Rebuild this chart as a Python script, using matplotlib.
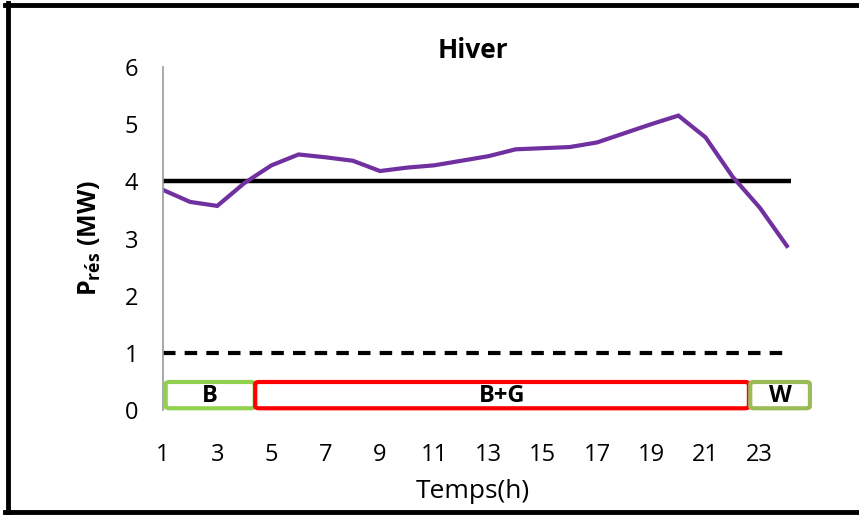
import matplotlib.pyplot as plt
from matplotlib.patches import FancyBboxPatch
from matplotlib.lines import Line2D

plt.rcParams['font.family'] = ['Open Sans', 'DejaVu Sans']
plt.rcParams['mathtext.fontset'] = 'custom'
plt.rcParams['mathtext.bf'] = 'Open Sans:bold'
plt.rcParams['mathtext.rm'] = 'Open Sans'

# hourly residual power, winter
hours = list(range(1, 25))
p_res = [3.85, 3.64, 3.57, 3.97, 4.28, 4.47, 4.42, 4.36, 4.18, 4.24, 4.28, 4.36,
         4.44, 4.56, 4.58, 4.60, 4.68, 4.84, 5.00, 5.15, 4.77, 4.08, 3.54, 2.87]
p_max = 4
p_min = 1

# operating modes along the day
mode_labels = ['B', 'B+G', 'W']
mode_start = [1.1, 4.4, 22.65]
mode_end = [4.38, 22.6, 24.85]
mode_colors = ['#92D050', '#FF0000', '#9BBB59']

fig = plt.figure(figsize=(8.59, 5.15), dpi=100)
ax = fig.add_axes([163 / 859, 1 - 410 / 515, (795 - 163) / 859, (410 - 67) / 515])

ax.plot([1, 24.15], [p_max, p_max], color='black', lw=3.2, solid_capstyle='butt')
ax.plot([1, 24.15], [p_min, p_min], color='black', lw=3, ls=(0, (3, 2.2)))
ax.plot(hours, p_res, color='#7030A0', lw=3, solid_joinstyle='miter')

for lab, s, e, c in zip(mode_labels, mode_start, mode_end, mode_colors):
  box = FancyBboxPatch((s, 0.03), e - s, 0.46, boxstyle='round,pad=0,rounding_size=0.15',
                       mutation_aspect=0.25, fc='white', ec=c, lw=3, clip_on=False, zorder=3)
  ax.add_patch(box)
  ax.text((s + e) / 2, 0.25, lab, ha='center', va='center', fontsize=17,
          fontweight='bold', zorder=4)

ax.set_xlim(1, 24.3)
ax.set_ylim(0, 6)
ax.set_xticks(range(1, 25, 2))
ax.set_yticks(range(0, 7))
ax.tick_params(axis='x', length=0, pad=24, labelsize=17)
ax.tick_params(axis='y', length=0, pad=18, labelsize=17)
for s in ['top', 'right', 'bottom']:
  ax.spines[s].set_visible(False)
ax.spines['left'].set_color('#999999')
ax.spines['left'].set_linewidth(1.2)

ax.set_ylabel(r'$\mathbf{P_{r\acute{e}s}}$ (MW)', fontsize=18, fontweight='bold')
ax.yaxis.set_label_coords(-0.095, 0.5)

fig.text(473 / 859, 1 - 50 / 515, 'Hiver', ha='center', va='center', fontsize=19, fontweight='bold')
fig.text(473 / 859, 1 - 492 / 515, 'Temps(h)', ha='center', va='center', fontsize=19)

# outer frame (top, left, bottom)
for xs, ys in [([0.006, 1.0], [0.991, 0.991]), ([0.009, 0.009], [0.005, 0.995]),
               ([0.006, 1.0], [0.006, 0.006])]:
  fig.add_artist(Line2D(xs, ys, color='black', lw=3.5, transform=fig.transFigure))

fig.savefig('out.png', dpi=100)
